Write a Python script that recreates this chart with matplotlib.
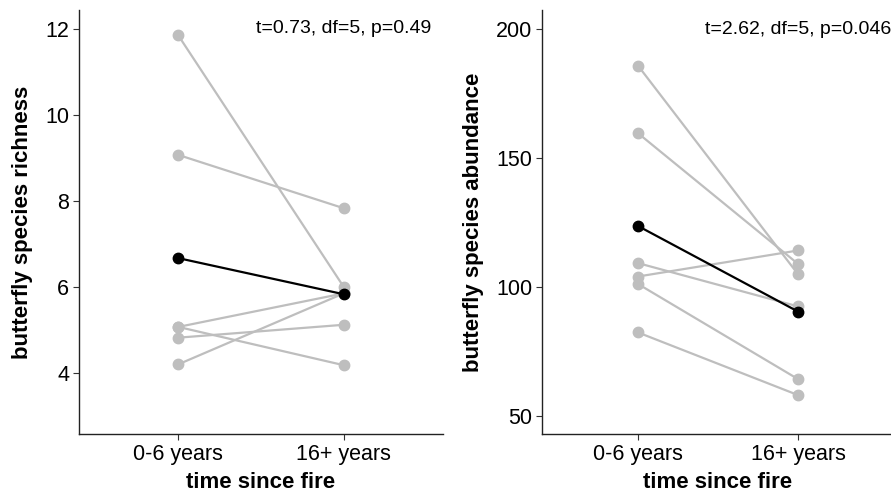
import matplotlib
matplotlib.use("Agg")
import matplotlib.pyplot as plt

plt.rcParams['font.family'] = ['Liberation Sans', 'DejaVu Sans']

groups = ['0-6 years', '16+ years']

# species richness, one pair per site (0-6 yrs, 16+ yrs)
rich_early = [11.85, 9.07, 5.07, 5.07, 4.82, 4.20]
rich_late = [6.00, 7.83, 5.85, 4.18, 5.12, 5.85]
rich_mean = [6.67, 5.83]

# abundance
abund_early = [185.8, 159.6, 109.2, 104.0, 101.1, 82.3]
abund_late = [104.9, 108.9, 92.4, 114.1, 64.2, 58.0]
abund_mean = [123.6, 90.4]

rich_stats = 't=0.73, df=5, p=0.49'
abund_stats = 't=2.62, df=5, p=0.046'

grey = '#bebebe'
xpos = [1, 2]


def paired_panel(ax, early, late, mean, ylim, yticks, ylabel, stats):
    for a, b in zip(early, late):
        ax.plot(xpos, [a, b], color=grey, lw=1.6, marker='o', ms=7.5,
                mec=grey, mfc=grey, zorder=2)
    ax.plot(xpos, mean, color='black', lw=1.6, marker='o', ms=7.5, zorder=3)
    ax.set_xlim(0.4, 2.6)
    ax.set_ylim(*ylim)
    ax.set_xticks(xpos)
    ax.set_xticklabels(groups)
    ax.set_yticks(yticks)
    ax.tick_params(labelsize=15.5, length=4, width=0.8, color='#333333',
                   labelcolor='black', pad=3)
    for s in ['top', 'right']:
        ax.spines[s].set_visible(False)
    for s in ['left', 'bottom']:
        ax.spines[s].set_linewidth(1.0)
        ax.spines[s].set_color('#222222')
    ax.set_xlabel('time since fire', fontsize=16, fontweight='bold', labelpad=5)
    ax.set_ylabel(ylabel, fontsize=16, fontweight='bold', labelpad=9)
    ax.text(2, yticks[-1], stats, ha='center', va='center', fontsize=14)


fig = plt.figure(figsize=(8.91, 4.94), dpi=100)
ax1 = fig.add_axes([79 / 891, 1 - 434 / 494, 364 / 891, 424 / 494])
ax2 = fig.add_axes([542 / 891, 1 - 434 / 494, 352 / 891, 424 / 494])

paired_panel(ax1, rich_early, rich_late, rich_mean, (2.58, 12.44),
             [4, 6, 8, 10, 12], 'butterfly species richness', rich_stats)
paired_panel(ax2, abund_early, abund_late, abund_mean, (42.9, 207.4),
             [50, 100, 150, 200], 'butterfly species abundance', abund_stats)

fig.savefig('out.png', dpi=100)
